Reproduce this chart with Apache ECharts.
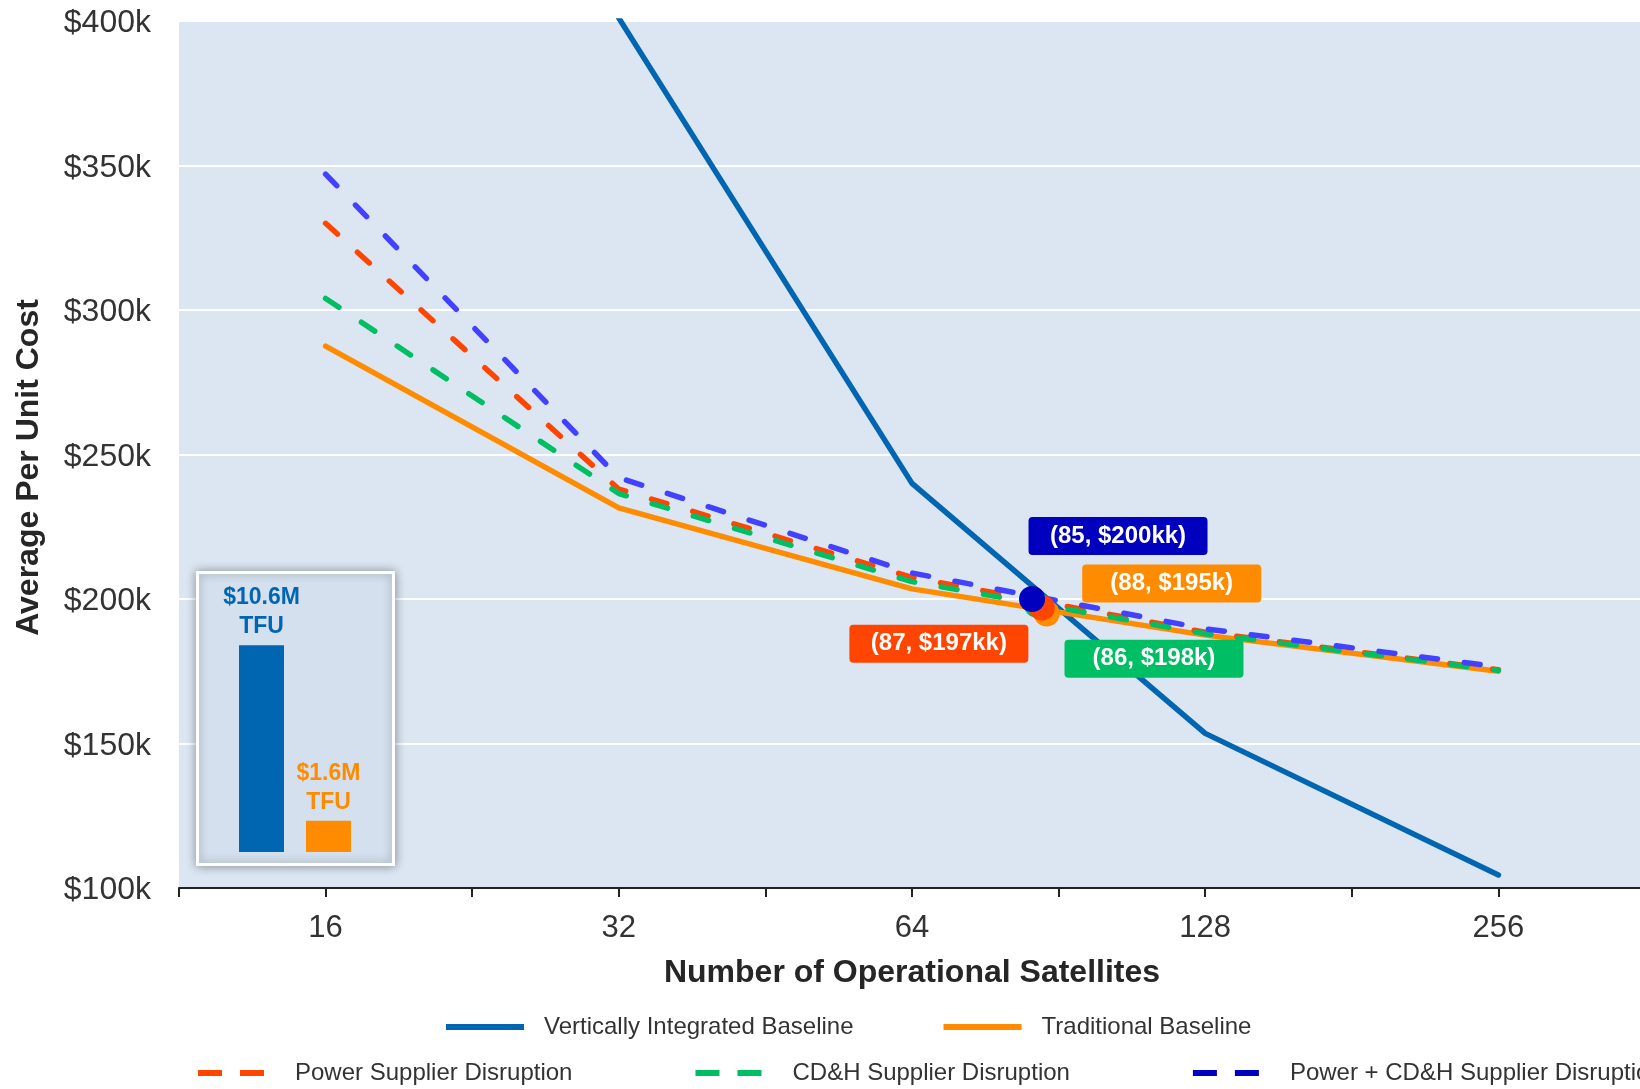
<!DOCTYPE html>
<html>
<head>
<meta charset="utf-8">
<script src="https://cdn.jsdelivr.net/npm/echarts@6/dist/echarts.min.js"></script>
<style>
  html, body { margin: 0; padding: 0; background: #ffffff; }
  #chart { width: 1640px; height: 1089px; }
</style>
</head>
<body>
<div id="chart"></div>
<script>
// Number of operational satellites (log2 x axis)
const satellites = [16, 32, 64, 128, 256];

// Average per unit cost, $k
const verticallyIntegrated = [null, 401, 240, 153.5, 104.5];
const traditional = [287.5, 231.5, 203.5, 187.5, 175];
const powerDisruption = [330, 238, 207.5, 188.5, 175.5];
const cdhDisruption = [304, 236.5, 206, 188, 175.3];
const combinedDisruption = [347, 242, 209, 189.7, 176.5];

// Break-even points against the vertically integrated baseline
const crossoverSatellites = [88, 86, 87, 85];
const crossoverCosts = [195, 198, 197, 200];
const crossoverLabels = ['(88, $195k)', '(86, $198k)', '(87, $197kk)', '(85, $200kk)'];

// Theoretical first unit cost, $M
const tfuCategories = ['Vertically Integrated', 'Traditional'];
const tfuValues = [10.6, 1.6];

const FONT = '"Liberation Sans", Arial, Helvetica, sans-serif';
const C_VI = '#0066B2';
const C_TRAD = '#FF8C00';
const C_POWER = '#FF4500';
const C_CDH = '#00BE64';
const C_BOTH_LINE = '#4141FF';
const C_BOTH = '#0000BE';

const crossoverColors = [C_TRAD, C_CDH, C_POWER, C_BOTH];
const crossoverLabelOffsets = [[125, -30], [117, 54], [-103, 36], [86, -63]];

const pairs = arr => satellites.map((n, i) => [n, arr[i]]);

const solid = (color) => ({ color: color, width: 5.5, type: 'solid', cap: 'round', join: 'round' });
const dashed = (color) => ({ color: color, width: 5.5, type: [16, 27], cap: 'round', join: 'round' });

const lineSeries = (name, data, lineStyle, z) => ({
  name: name,
  type: 'line',
  data: pairs(data),
  symbol: 'none',
  color: lineStyle.color,
  lineStyle: lineStyle,
  z: z,
  silent: true,
  connectNulls: false
});

// legend keys show only the line stroke, no marker
const noMarker = { color: 'rgba(0,0,0,0)', opacity: 0, borderWidth: 0 };
const dashKey = [24, 18];

const chart = echarts.init(document.getElementById('chart'), null, { renderer: 'canvas' });

const option = {
  animation: false,
  textStyle: { fontFamily: FONT },
  grid: [
    {
      left: 179, top: 21, width: 1466, bottom: 201,
      outerBoundsMode: 'none',
      containLabel: false,
      show: true, backgroundColor: '#DCE6F2', borderWidth: 0
    },
    {
      left: 228, width: 134, top: 618, bottom: 237,
      outerBoundsMode: 'none',
      containLabel: false
    }
  ],
  xAxis: [
    {
      type: 'log',
      logBase: 2,
      gridIndex: 0,
      min: 8 * Math.SQRT2,
      max: 256 * Math.SQRT2,
      interval: 0.5,
      axisLine: { show: true, lineStyle: { color: '#222222', width: 2 } },
      axisTick: { show: true, length: 9, lineStyle: { color: '#222222', width: 2 } },
      splitLine: { show: false },
      minorTick: { show: false },
      axisLabel: {
        fontSize: 31, color: '#333333', margin: 25, fontFamily: FONT,
        formatter: v => {
          const e = Math.log2(v);
          return Math.abs(e - Math.round(e)) < 1e-6 ? String(Math.round(Math.pow(2, Math.round(e)))) : '';
        }
      },
      name: 'Number of Operational Satellites',
      nameLocation: 'middle',
      nameGap: 69,
      nameTextStyle: { fontSize: 32, fontWeight: 'bold', color: '#262626', fontFamily: FONT }
    },
    {
      type: 'category',
      gridIndex: 1,
      data: tfuCategories,
      show: false
    }
  ],
  yAxis: [
    {
      type: 'value',
      gridIndex: 0,
      min: 100,
      max: 400,
      interval: 50,
      axisLine: { show: false },
      axisTick: { show: false },
      splitLine: { show: true, lineStyle: { color: '#FFFFFF', width: 2 } },
      axisLabel: {
        margin: 28,
        formatter: v => '{t|$' + v + 'k}',
        rich: {
          t: { fontSize: 32, color: '#333333', fontFamily: FONT, padding: [5, 0, 0, 0] }
        }
      },
      name: 'Average Per Unit Cost',
      nameLocation: 'middle',
      nameGap: 134,
      nameTextStyle: { fontSize: 32, fontWeight: 'bold', color: '#262626', fontFamily: FONT, padding: [0, 26, 0, 0] }
    },
    {
      type: 'value',
      gridIndex: 1,
      min: 0,
      max: 12,
      show: false
    }
  ],
  legend: [
    {
      left: 443, top: 1015, padding: 0, width: 1600,
      itemWidth: 78, itemHeight: 14, itemGap: 87,
      selectedMode: false,
      textStyle: { fontSize: 24, color: '#333333', fontFamily: FONT, padding: [0, 0, 0, 15] },
      data: [
        { name: 'Vertically Integrated Baseline', itemStyle: noMarker, lineStyle: { color: C_VI, width: 6, type: 'solid', cap: 'butt' } },
        { name: 'Traditional Baseline', itemStyle: noMarker, lineStyle: { color: C_TRAD, width: 6, type: 'solid', cap: 'butt' } }
      ]
    },
    {
      left: 195, top: 1061, padding: 0, width: 1600,
      itemWidth: 66, itemHeight: 14, itemGap: 120,
      selectedMode: false,
      textStyle: { fontSize: 24, color: '#333333', fontFamily: FONT, padding: [0, 0, 0, 26] },
      data: [
        { name: 'Power Supplier Disruption', itemStyle: noMarker, lineStyle: { color: C_POWER, width: 6, type: dashKey, cap: 'butt' } },
        { name: 'CD&H Supplier Disruption', itemStyle: noMarker, lineStyle: { color: C_CDH, width: 6, type: dashKey, cap: 'butt' } },
        { name: 'Power + CD&H Supplier Disruption', itemStyle: noMarker, lineStyle: { color: C_BOTH, width: 6, type: dashKey, cap: 'butt' } }
      ]
    }
  ],
  graphic: [
    {
      type: 'rect',
      z: 1,
      silent: true,
      shape: { x: 197.5, y: 572.5, width: 196, height: 292 },
      style: {
        fill: '#D5E0EE',
        stroke: '#FFFFFF',
        lineWidth: 3,
        shadowBlur: 10,
        shadowColor: 'rgba(0,0,0,0.35)'
      }
    }
  ],
  series: [
    lineSeries('Vertically Integrated Baseline', verticallyIntegrated, solid(C_VI), 2),
    lineSeries('Traditional Baseline', traditional, solid(C_TRAD), 3),
    lineSeries('Power Supplier Disruption', powerDisruption, dashed(C_POWER), 4),
    lineSeries('CD&H Supplier Disruption', cdhDisruption, dashed(C_CDH), 5),
    lineSeries('Power + CD&H Supplier Disruption', combinedDisruption, dashed(C_BOTH_LINE), 6),
    {
      name: 'Break-even',
      type: 'scatter',
      z: 8,
      silent: true,
      symbol: 'circle',
      symbolSize: 26,
      itemStyle: { opacity: 1 },
      data: crossoverSatellites.map((n, i) => ({
        value: [n, crossoverCosts[i]],
        itemStyle: { color: crossoverColors[i], opacity: 1 },
        label: {
          show: true,
          position: 'inside',
          formatter: crossoverLabels[i],
          offset: crossoverLabelOffsets[i],
          backgroundColor: crossoverColors[i]
        }
      })),
      label: {
        color: '#FFFFFF',
        opacity: 1,
        fontSize: 24,
        fontWeight: 'bold',
        fontFamily: FONT,
        width: 179,
        height: 38,
        lineHeight: 38,
        align: 'center',
        verticalAlign: 'middle',
        borderRadius: 4
      }
    },
    {
      name: 'TFU',
      type: 'bar',
      xAxisIndex: 1,
      yAxisIndex: 1,
      z: 5,
      silent: true,
      barWidth: 45,
      data: tfuValues.map((v, i) => ({
        value: v,
        itemStyle: { color: [C_VI, C_TRAD][i] },
        label: { color: [C_VI, C_TRAD][i] }
      })),
      label: {
        show: true,
        position: 'top',
        distance: 4,
        fontSize: 23,
        fontWeight: 'bold',
        fontFamily: FONT,
        lineHeight: 29,
        align: 'center',
        formatter: p => '$' + p.value + 'M\nTFU'
      }
    }
  ]
};

chart.setOption(option);
</script>
</body>
</html>
